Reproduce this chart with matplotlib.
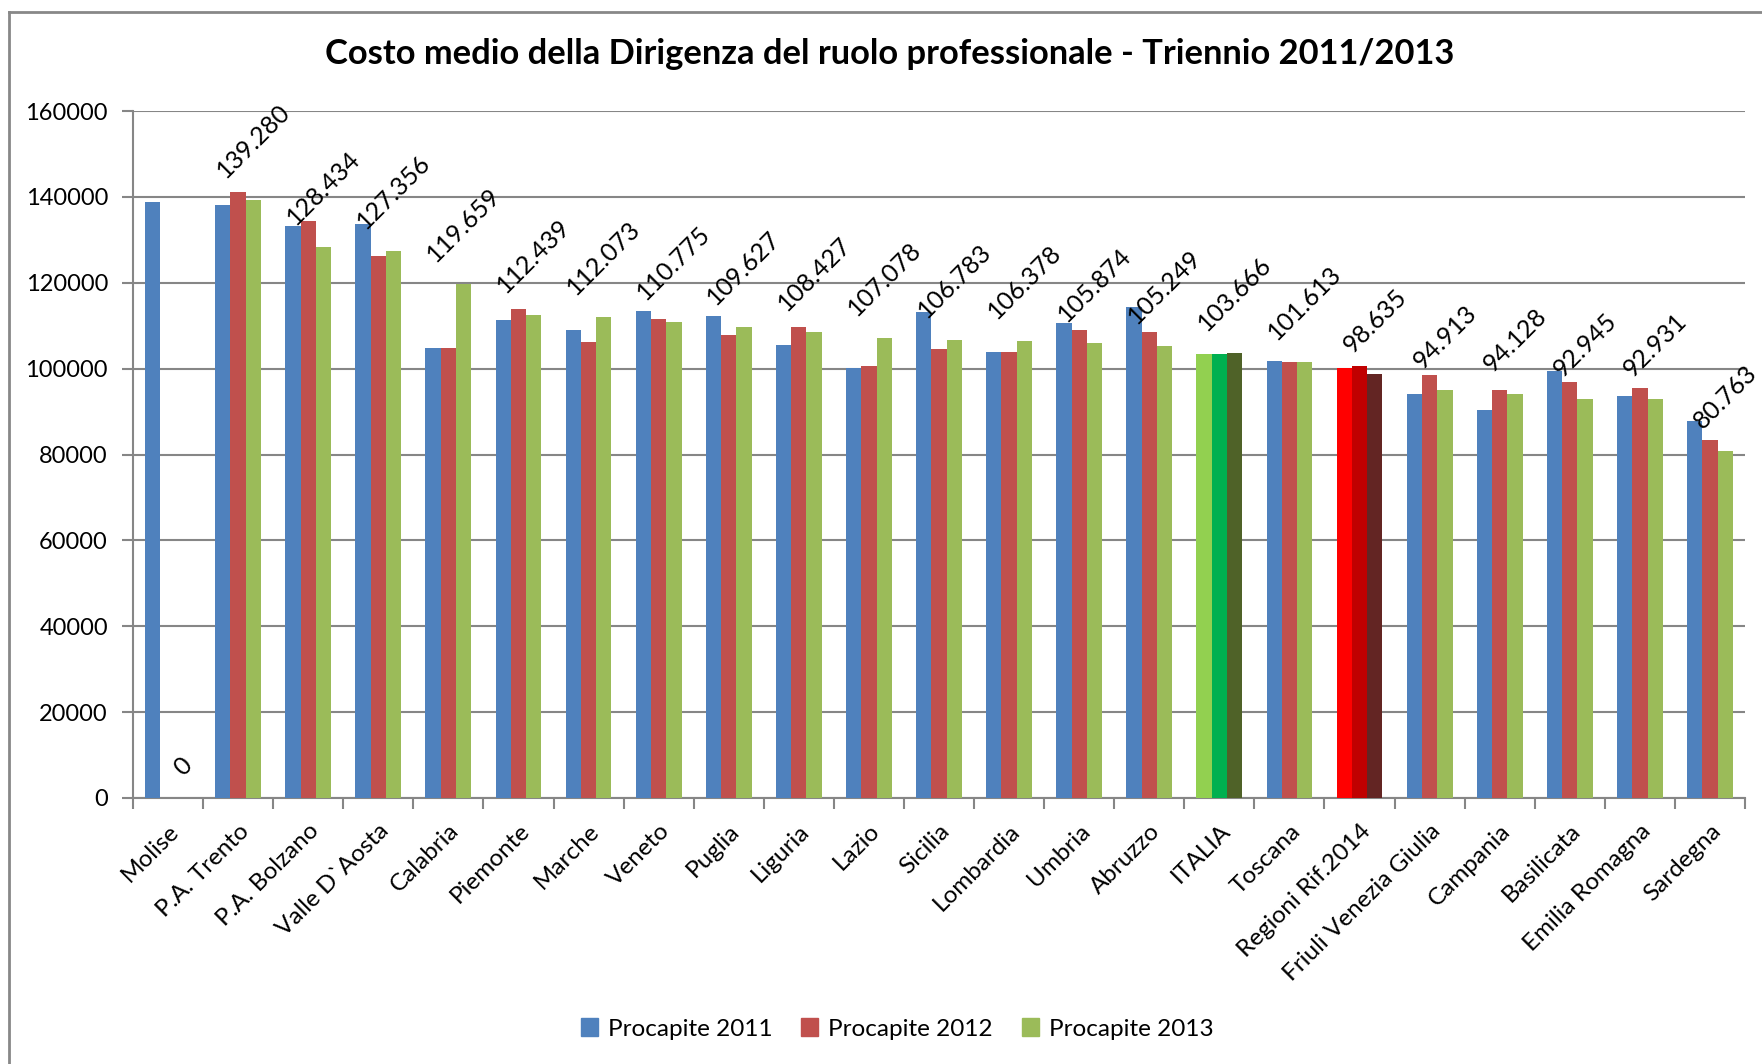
import numpy as np
import matplotlib.pyplot as plt
from matplotlib.lines import Line2D
from matplotlib.patches import Patch

plt.rcParams['font.family'] = ['Lato', 'DejaVu Sans']

regioni = ['Molise', 'P.A. Trento', 'P.A. Bolzano', 'Valle D`Aosta', 'Calabria', 'Piemonte',
           'Marche', 'Veneto', 'Puglia', 'Liguria', 'Lazio', 'Sicilia', 'Lombardia', 'Umbria',
           'Abruzzo', 'ITALIA', 'Toscana', 'Regioni Rif.2014', 'Friuli Venezia Giulia',
           'Campania', 'Basilicata', 'Emilia Romagna', 'Sardegna']

procapite_2011 = [138700, 138200, 133300, 133700, 104800, 111300, 108900, 113400, 112200,
                  105600, 100200, 113100, 103900, 110700, 114300, 103300, 101800, 100100,
                  94000, 90400, 99400, 93700, 87700]
procapite_2012 = [0, 141200, 134400, 126200, 104800, 114000, 106300, 111600, 107800,
                  109800, 100600, 104500, 103900, 108900, 108600, 103300, 101500, 100600,
                  98400, 95000, 97000, 95500, 83300]
procapite_2013 = [0, 139280, 128434, 127356, 119659, 112439, 112073, 110775, 109627,
                  108427, 107078, 106783, 106378, 105874, 105249, 103666, 101613, 98635,
                  94913, 94128, 92945, 92931, 80763]

serie = ['Procapite 2011', 'Procapite 2012', 'Procapite 2013']
colori = ['#4F81BD', '#C0504D', '#9BBB59']
# colori speciali per ITALIA e Regioni Rif.2014
speciali = {'ITALIA': ['#92D050', '#00B050', '#4F6228'],
            'Regioni Rif.2014': ['#FF0000', '#C00000', '#632523']}

fig = plt.figure(figsize=(17.62, 10.64), dpi=100)
ax = fig.add_axes([133/1762, 1 - 798/1064, (1745 - 133)/1762, (798 - 111)/1064])

x = np.arange(len(regioni))
w = 0.218
for k, valori in enumerate([procapite_2011, procapite_2012, procapite_2013]):
    cols = [speciali[r][k] if r in speciali else colori[k] for r in regioni]
    ax.bar(x + (k - 1) * w, valori, width=w, color=cols, zorder=3)

for i, v in enumerate(procapite_2013):
    txt = '{:,}'.format(v).replace(',', '.')
    ax.annotate(txt, (x[i] + w, v), xytext=(0, 13), textcoords='offset points',
                ha='center', va='bottom', rotation=45, fontsize=18, color='black', zorder=4)

ax.set_xlim(-0.5, len(regioni) - 0.5)
ax.set_ylim(0, 160000)
ax.set_yticks(np.arange(0, 160001, 20000))
ax.set_yticklabels([str(v) for v in range(0, 160001, 20000)], fontsize=17)
ax.yaxis.grid(True, color='#868686', linewidth=1.5, zorder=0)

ax.set_xticks(x)
ax.set_xticklabels(regioni, rotation=45, ha='right', rotation_mode='anchor', fontsize=17.5)
ax.set_xticks(np.arange(-0.5, len(regioni)), minor=True)
ax.tick_params(axis='x', which='major', length=0, pad=16)
ax.tick_params(axis='x', which='minor', length=8, width=1.5, color='#868686')
ax.tick_params(axis='y', length=8, width=1.5, color='#868686', pad=10)

for s in ['top', 'right']:
    ax.spines[s].set_visible(False)
for s in ['left', 'bottom']:
    ax.spines[s].set_color('#868686')
    ax.spines[s].set_linewidth(1.5)

fig.text(890/1762, 1 - 54/1064, 'Costo medio della Dirigenza del ruolo professionale - Triennio 2011/2013',
         ha='center', va='center', fontsize=24.8, fontweight='bold')

handles = [Patch(color=c) for c in colori]
fig.legend(handles, serie, loc='center', bbox_to_anchor=(897/1762, 1 - 1029/1064), ncol=3,
           frameon=False, fontsize=17.5, handlelength=0.7, handleheight=0.7,
           handletextpad=0.4, columnspacing=1.2)

# bordo del grafico
fig.add_artist(Line2D([9/1762, 9/1762], [0, 1 - 12/1064], color='#888888', linewidth=2))
fig.add_artist(Line2D([9/1762, 1], [1 - 12/1064, 1 - 12/1064], color='#888888', linewidth=2))

plt.savefig('out.png', dpi=100)
